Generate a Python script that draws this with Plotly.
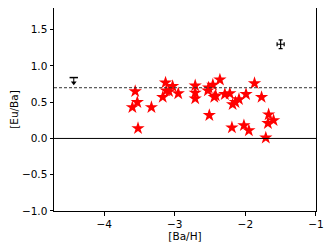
import plotly.graph_objects as go

# star sample: [Ba/H] vs [Eu/Ba]
ba_h = [-3.56, -3.60, -3.53, -3.52, -3.33, -3.17, -3.13, -3.12, -3.08, -3.03,
        -2.95, -2.71, -2.71, -2.71, -2.52, -2.46, -2.53, -2.36, -2.42, -2.44,
        -2.29, -2.22, -2.14, -2.09, -2.18, -1.99, -1.87, -1.77, -2.51, -2.19,
        -2.02, -1.95, -1.67, -1.60, -1.68, -1.71]
eu_ba = [0.65, 0.43, 0.50, 0.14, 0.43, 0.57, 0.77, 0.66, 0.65, 0.72,
         0.62, 0.73, 0.63, 0.55, 0.70, 0.74, 0.66, 0.81, 0.59, 0.57,
         0.61, 0.62, 0.50, 0.54, 0.47, 0.61, 0.76, 0.57, 0.32, 0.15,
         0.18, 0.11, 0.33, 0.25, 0.21, 0.01]

# upper limit star
lim_x = [-4.43]
lim_y = [0.84]
lim_len = 0.07

# typical error bar
err_x = [-1.5]
err_y = [1.30]
err_dx = 0.05
err_dy = 0.06

solar_r = 0.7

fig = go.Figure()

fig.add_hline(y=0, line=dict(color="black", width=1))
fig.add_hline(y=solar_r, line=dict(color="#333333", width=1, dash="3px,2px"))

fig.add_trace(go.Scatter(
    x=ba_h, y=eu_ba, mode="markers",
    marker=dict(symbol="star", size=10, color="red", line=dict(width=0)),
))

# upper limit: bar on top, arrow pointing down
fig.add_trace(go.Scatter(
    x=lim_x * 2, y=[lim_y[0], lim_y[0] - lim_len], mode="lines",
    line=dict(color="black", width=1),
))
fig.add_trace(go.Scatter(
    x=lim_x, y=lim_y, mode="markers",
    marker=dict(symbol="line-ew", size=6, line=dict(color="black", width=1.5)),
))
fig.add_trace(go.Scatter(
    x=lim_x, y=[lim_y[0] - lim_len], mode="markers",
    marker=dict(symbol="triangle-down", size=5, color="black"),
))

fig.add_trace(go.Scatter(
    x=err_x, y=err_y, mode="markers",
    marker=dict(size=1, color="black"),
    error_x=dict(type="constant", value=err_dx, color="black", thickness=1.2, width=2),
    error_y=dict(type="constant", value=err_dy, color="black", thickness=1.2, width=2),
))

axis_common = dict(
    showline=True, linecolor="black", linewidth=1, mirror=True,
    ticks="outside", ticklen=3.5, tickwidth=1, tickcolor="black",
    showgrid=False, zeroline=False,
    tickfont=dict(family="DejaVu Sans", size=10.5, color="black"),
    title_font=dict(family="DejaVu Sans", size=10.5, color="black"),
)

fig.update_xaxes(range=[-4.71, -0.999], tickvals=[-4, -3, -2, -1],
                 ticktext=["\u22124", "\u22123", "\u22122", "\u22121"],
                 title_text="[Ba/H]", title_standoff=2, **axis_common)
fig.update_yaxes(range=[-1.001, 1.8], tickvals=[-1, -0.5, 0, 0.5, 1, 1.5],
                 ticktext=["\u22121.0", "\u22120.5", "0.0", "0.5", "1.0", "1.5"],
                 title_text="[Eu/Ba]", title_standoff=5, **axis_common)

# page body has an 8px margin, so the figure is shrunk to fit the window
fig.update_layout(
    width=324, height=241,
    margin=dict(l=46, r=16, t=0, b=38),
    paper_bgcolor="white", plot_bgcolor="white",
    showlegend=False,
)

fig.write_html("out.html")
